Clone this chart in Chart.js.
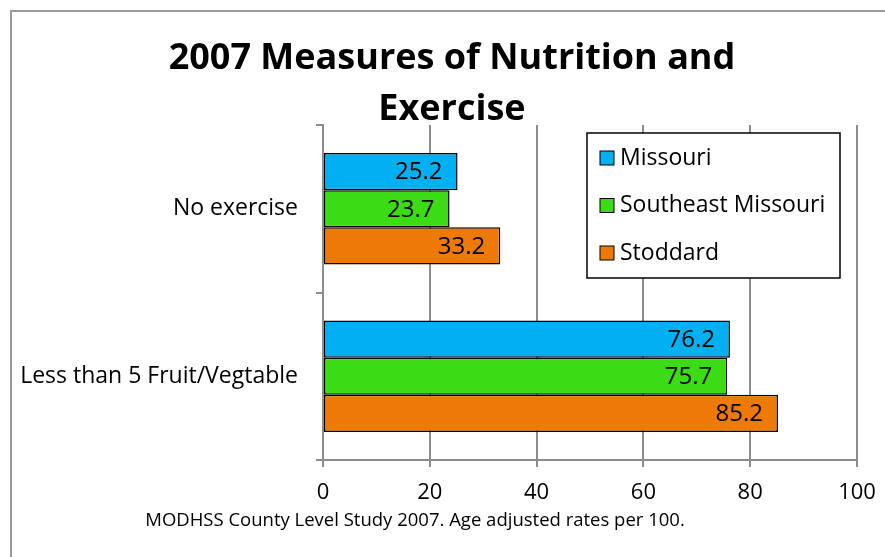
<!DOCTYPE html>
<html>
<head>
<meta charset="utf-8">
<script src="https://cdn.jsdelivr.net/npm/chart.js@4.4.0/dist/chart.umd.min.js"></script>
<style>
  html, body { margin: 0; padding: 0; background: #fff; }
  #wrap { position: relative; width: 885px; height: 557px; }
</style>
</head>
<body>
<div id="wrap"><canvas id="chart" width="885" height="557"></canvas></div>
<script>
// data
const categories = ["No exercise", "Less than 5 Fruit/Vegtable"];
const seriesNames = ["Missouri", "Southeast Missouri", "Stoddard"];
const missouri = [25.2, 76.2];
const southeastMissouri = [23.7, 75.7];
const stoddard = [33.2, 85.2];
const xTicks = [0, 20, 40, 60, 80, 100];

const titleLines = ["2007 Measures of Nutrition and", "Exercise"];
const footnote = "MODHSS County Level Study 2007. Age adjusted rates per 100.";

const COLORS = ["#00b0f0", "#3cdc14", "#ee7a06"];
const FONT = "'Open Sans', sans-serif";
const GRID = "#8c8c8c";

const ctx = document.getElementById("chart").getContext("2d");

// frame, title and footnote
const decor = {
    id: "decor",
    beforeDraw(chart) {
        const c = chart.ctx;
        c.save();
        c.strokeStyle = "#9a9a9a";
        c.lineWidth = 2;
        c.strokeRect(11, 11, 900, 600);
        c.restore();
    },
    afterDraw(chart) {
        const c = chart.ctx;
        c.save();
        c.fillStyle = "#000";
        c.textAlign = "center";
        c.textBaseline = "middle";
        c.font = "bold 36px " + FONT;
        c.fillText(titleLines[0], 452, 59);
        c.fillText(titleLines[1], 452, 110);
        c.font = "18.5px " + FONT;
        c.fillText(footnote, 415, 521);
        c.restore();
    }
};

// values inside bar ends
const barLabels = {
    id: "barLabels",
    afterDatasetsDraw(chart) {
        const c = chart.ctx;
        c.save();
        c.font = "24px " + FONT;
        c.fillStyle = "#000";
        c.textAlign = "right";
        c.textBaseline = "middle";
        chart.data.datasets.forEach((ds, i) => {
            chart.getDatasetMeta(i).data.forEach((bar, j) => {
                c.fillText(ds.data[j].toFixed(1), bar.x - 15, bar.y + 1);
            });
        });
        c.restore();
    }
};

// boxed legend inside the plot
const boxLegend = {
    id: "boxLegend",
    afterDraw(chart) {
        const c = chart.ctx;
        const x0 = 587, y0 = 133, w = 253, h = 145;
        c.save();
        c.fillStyle = "#fff";
        c.fillRect(x0, y0, w, h);
        c.strokeStyle = "#000";
        c.lineWidth = 1.5;
        c.strokeRect(x0, y0, w, h);
        c.font = "23px " + FONT;
        c.textBaseline = "middle";
        chart.data.datasets.forEach((ds, i) => {
            const cy = y0 + 25 + i * 47.5;
            c.fillStyle = ds.backgroundColor;
            c.fillRect(x0 + 13, cy - 7, 14, 14);
            c.strokeStyle = "#000";
            c.lineWidth = 1;
            c.strokeRect(x0 + 13, cy - 7, 14, 14);
            c.fillStyle = "#000";
            c.fillText(ds.label, x0 + 33, cy);
        });
        c.restore();
    }
};

const chart = new Chart(ctx, {
    type: "bar",
    data: {
        labels: categories,
        datasets: [
            { label: seriesNames[0], data: missouri, backgroundColor: COLORS[0] },
            { label: seriesNames[1], data: southeastMissouri, backgroundColor: COLORS[1] },
            { label: seriesNames[2], data: stoddard, backgroundColor: COLORS[2] }
        ].map(d => Object.assign(d, {
            borderColor: "#000",
            borderWidth: 1.5,
            borderSkipped: false,
            barPercentage: 1,
            categoryPercentage: 0.665
        }))
    },
    options: {
        indexAxis: "y",
        responsive: false,
        animation: false,
        layout: { padding: { top: 125, right: 28, left: 0, bottom: 0 } },
        scales: {
            x: {
                min: 0, max: 100,
                afterBuildTicks: s => { s.ticks = xTicks.map(v => ({ value: v })); },
                afterFit: s => { s.height = 97; s.paddingLeft = 0; s.paddingRight = 0; },
                border: { color: GRID, width: 2 },
                grid: { color: GRID, lineWidth: 2, tickLength: 7 },
                ticks: { color: "#000", font: { family: FONT, size: 22 }, padding: 13 }
            },
            y: {
                afterFit: s => { s.width = 323; s.paddingTop = 0; s.paddingBottom = 0; },
                border: { color: GRID, width: 2 },
                grid: { color: GRID, lineWidth: 2, drawOnChartArea: false, tickLength: 7, offset: true },
                ticks: { color: "#000", font: { family: FONT, size: 23 }, padding: 18 }
            }
        },
        plugins: { legend: { display: false }, tooltip: { enabled: false } }
    },
    plugins: [decor, barLabels, boxLegend]
});
</script>
</body>
</html>
